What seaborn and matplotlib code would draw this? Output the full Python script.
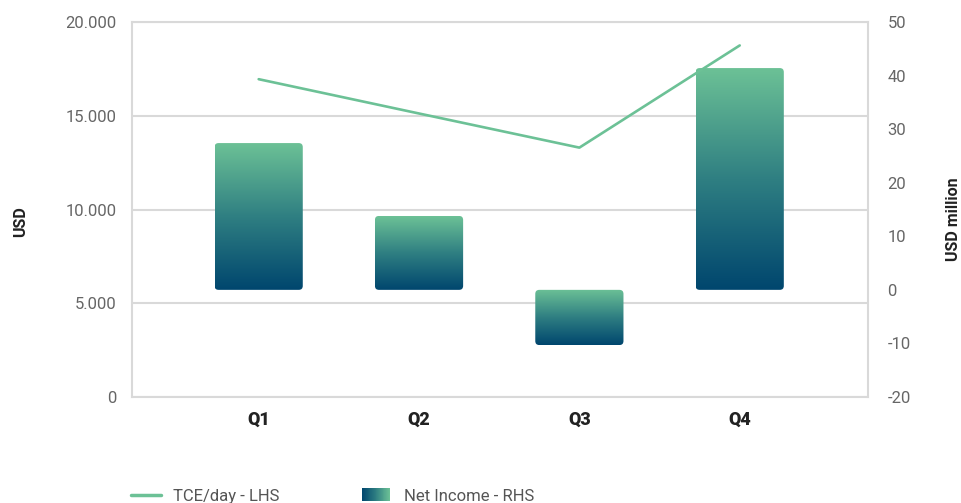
import numpy as np
import pandas as pd
import matplotlib
matplotlib.use("Agg")
import matplotlib.pyplot as plt
import seaborn as sns
from matplotlib.colors import LinearSegmentedColormap
from matplotlib.patches import FancyBboxPatch, Rectangle
from matplotlib.lines import Line2D
from matplotlib.legend_handler import HandlerBase
from matplotlib.ticker import FuncFormatter

# ---- data ----
quarters = ["Q1", "Q2", "Q3", "Q4"]
tce_per_day = [16950, 15120, 13300, 18750]      # USD, left axis
net_income = [27.4, 13.8, -10.3, 41.4]          # USD million, right axis
left_ticks = [0, 5000, 10000, 15000, 20000]
right_ticks = [-20, -10, 0, 10, 20, 30, 40, 50]
series_names = ["TCE/day - LHS", "Net Income - RHS"]

LINE_COLOR = "#6CC196"
GRID = "#D9D9D9"
TICK_COLOR = "#666666"
cmap = LinearSegmentedColormap.from_list("ni", ["#00466E", "#2F7F82", "#6CC196"])

sns.set_theme(style="white")
plt.rcParams["font.family"] = ["Roboto", "DejaVu Sans"]
plt.rcParams["axes.unicode_minus"] = False

fig = plt.figure(figsize=(9.62, 5.03), dpi=100)
ax = fig.add_axes([132 / 962, 1 - 397 / 503, 736 / 962, 375 / 503])
ax2 = ax.twinx()
ax3 = ax.twinx()

pos = np.arange(len(quarters))

# ---- bars (right axis) ----
df = pd.DataFrame({"quarter": quarters, "net_income": net_income})
sns.barplot(data=df, x="quarter", y="net_income", order=quarters, ax=ax2,
            width=0.55, color=LINE_COLOR)
grad = np.linspace(0, 1, 256).reshape(-1, 1)
for p in list(ax2.patches):
    x0 = p.get_x()
    w = p.get_width()
    y0 = p.get_y()
    h = p.get_height()
    b, t = min(y0, y0 + h), max(y0, y0 + h)
    p.remove()
    clip = FancyBboxPatch((x0, b), w, t - b,
                          boxstyle="round,pad=0,rounding_size=0.025",
                          mutation_aspect=30, transform=ax2.transData,
                          facecolor="none", edgecolor="none")
    ax2.add_patch(clip)
    im = ax2.imshow(grad, cmap=cmap, extent=(x0, x0 + w, b, t), origin="lower",
                    aspect="auto", zorder=2, interpolation="bilinear")
    im.set_clip_path(clip)

# ---- line (left scale, drawn on top) ----
sns.lineplot(x=pos, y=tce_per_day, ax=ax3, color=LINE_COLOR, linewidth=1.9)

# ---- limits ----
for a in (ax, ax2, ax3):
    a.set_xlim(-0.79, 3.8)
ax.set_ylim(0, 20000)
ax3.set_ylim(0, 20000)
ax2.set_ylim(-20, 50)

# ---- axes styling ----
ax.set_yticks(left_ticks)
ax.yaxis.set_major_formatter(FuncFormatter(lambda v, _: f"{v:,.0f}".replace(",", ".")))
ax.tick_params(axis="y", length=0, pad=11, labelsize=12, labelcolor=TICK_COLOR)
ax.set_xticks(pos)
ax.set_xticklabels(quarters)
ax.tick_params(axis="x", length=0, pad=10, labelsize=13, labelcolor="#222222")
for lab in ax.get_xticklabels():
    lab.set_fontweight("heavy")
ax.yaxis.grid(True, color=GRID, linewidth=1.5)
ax.xaxis.grid(False)
ax.set_axisbelow(True)
for s in ax.spines.values():
    s.set_color(GRID)
    s.set_linewidth(1.5)
ax.set_xlabel("")
ax.set_ylabel("USD", fontsize=11.5, fontweight="bold", color="#222222", va="center")
ax.yaxis.set_label_coords(-0.152, 0.469)

ax2.set_yticks(right_ticks)
ax2.tick_params(axis="y", length=0, pad=14, labelsize=12, labelcolor=TICK_COLOR)
ax2.set_ylabel("USD million", fontsize=11.5, fontweight="bold", color="#222222", va="center")
ax2.yaxis.set_label_coords(1.1155, 0.473)
ax2.set_xlabel("")
for s in ax2.spines.values():
    s.set_visible(False)
ax2.grid(False)

ax3.set_yticks([])
ax3.set_ylabel("")
for s in ax3.spines.values():
    s.set_visible(False)
ax3.grid(False)

# ---- legends ----
class GradientHandler(HandlerBase):
    def create_artists(self, legend, orig_handle, xdescent, ydescent,
                       width, height, fontsize, trans):
        n = 60
        arts = []
        for i in range(n):
            r = Rectangle((-xdescent + width * i / n, -ydescent), width / n * 1.05, height,
                          facecolor=cmap(i / (n - 1)), edgecolor="none", transform=trans)
            arts.append(r)
        return arts

fs_leg = 12
leg1 = fig.legend(handles=[Line2D([0], [0], color=LINE_COLOR, linewidth=2.5)],
                  labels=[series_names[0]], loc="center left",
                  bbox_to_anchor=(131 / 962, 1 - 496 / 503), frameon=False,
                  borderpad=0, borderaxespad=0, handlelength=30 / (fs_leg * 1.389),
                  handletextpad=12 / (fs_leg * 1.389),
                  fontsize=fs_leg, labelcolor="#555555")
leg2 = fig.legend(handles=[Rectangle((0, 0), 1, 1)], labels=[series_names[1]],
                  handler_map={Rectangle: GradientHandler()}, loc="center left",
                  bbox_to_anchor=(362 / 962, 1 - 496 / 503), frameon=False,
                  borderpad=0, borderaxespad=0, handlelength=28 / (fs_leg * 1.389),
                  handleheight=14 / (fs_leg * 1.389),
                  handletextpad=14 / (fs_leg * 1.389), fontsize=fs_leg, labelcolor="#555555")

fig.savefig("out.png", dpi=100)
